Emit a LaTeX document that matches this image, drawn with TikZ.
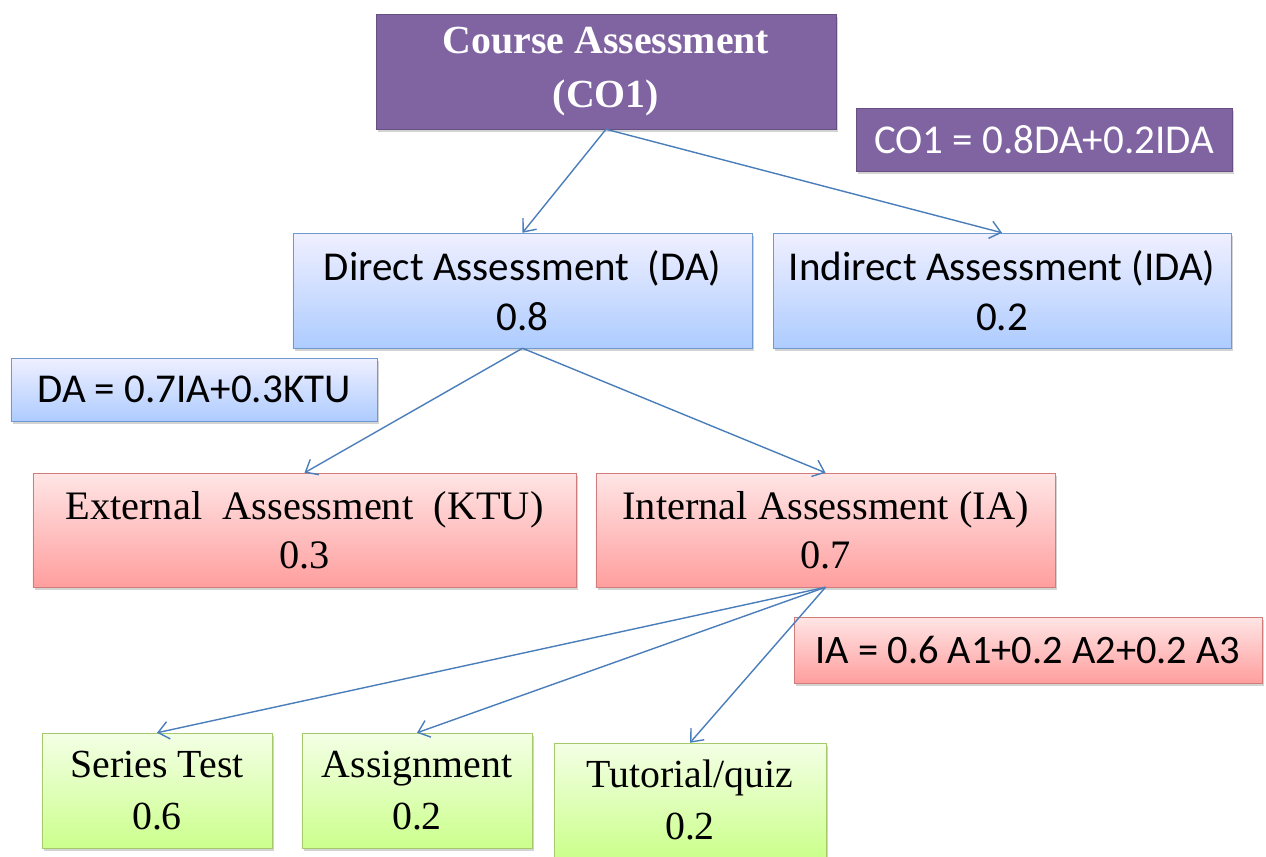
\documentclass[tikz,border=0pt]{standalone}
\usepackage{fontspec}
\setmainfont{Liberation Serif}
\newfontfamily\calibri{Carlito}
\usetikzlibrary{arrows.meta,positioning,shadows}
\definecolor{purplebox}{HTML}{8064A2}
\definecolor{linkblue}{HTML}{4A7EBB}
\definecolor{blueline}{HTML}{6E9AD0}
\definecolor{redline}{HTML}{D07C7A}
\definecolor{greenline}{HTML}{A6C96A}

\tikzset{
    boxshadow/.style={drop shadow={shadow xshift=2pt, shadow yshift=-2.5pt, opacity=0.35}},
    topbox/.style={draw=purplebox!80!black, fill=purplebox, boxshadow, text=white,
        font=\fontsize{34}{46}\selectfont\bfseries, align=center, inner sep=0pt},
    eqpurple/.style={draw=purplebox!80!black, fill=purplebox, boxshadow, text=white,
        font=\calibri\fontsize{35}{40}\selectfont, inner sep=0pt},
    bluebox/.style={draw=blueline, top color=blue!6!white, bottom color=blue!30!cyan!20!white!85!blue,
        boxshadow, align=center, inner sep=0pt, font=\calibri\fontsize{35}{43}\selectfont},
    redbox/.style={draw=redline, top color=red!10!white, bottom color=red!38!white,
        boxshadow, align=center, inner sep=0pt, font=\fontsize{34.5}{42}\selectfont},
    greenbox/.style={draw=greenline, top color=green!45!yellow!10!white, bottom color=green!45!yellow!45!white,
        boxshadow, align=center, inner sep=0pt, font=\fontsize{34}{45}\selectfont},
    link/.style={-{Straight Barb[length=9pt, width=15pt]}, draw=linkblue, line width=1.2pt}
}

\begin{document}
\begin{tikzpicture}[x=0.03cm, y=-0.03cm]
    \useasboundingbox (0,0) rectangle (1266,856);

    % top level
    \node[topbox, minimum width=13.8cm, minimum height=3.45cm] (course) at (606,71.5) {\raisebox{-4pt}{Course Assessment}\\\raisebox{-4pt}{(CO1)}};
    \node[eqpurple, minimum width=11.28cm, minimum height=1.89cm] (coeq) at (1044,139.5) {CO1 = 0.8DA+0.2IDA};

    % second level
    \node[bluebox, minimum width=13.77cm, minimum height=3.45cm] (direct) at (522.5,290.5) {Direct Assessment\ \ (DA)\\0.8};
    \node[bluebox, minimum width=13.74cm, minimum height=3.45cm] (indirect) at (1002,290.5) {Indirect Assessment (IDA)\\0.2};
    \node[bluebox, minimum width=10.98cm, minimum height=1.89cm] (daeq) at (194,389.5) {DA = 0.7IA+0.3KTU};

    % third level
    \node[redbox, minimum width=16.29cm, minimum height=3.42cm] (external) at (304.5,530) {External\ \ Assessment\ \ (KTU)\\0.3};
    \node[redbox, minimum width=13.77cm, minimum height=3.42cm] (internal) at (825.5,530) {Internal Assessment (IA)\\0.7};
    \node[redbox, font=\calibri\fontsize{34.5}{40}\selectfont, minimum width=14.04cm, minimum height=1.98cm] (iaeq) at (1028,650) {IA = 0.6 A1+0.2 A2+0.2 A3};

    % components of IA
    \node[greenbox, minimum width=6.9cm, minimum height=3.45cm] (series) at (157,790.5) {Series Test\\0.6};
    \node[greenbox, minimum width=6.9cm, minimum height=3.45cm] (assign) at (417,790.5) {Assignment\\0.2};
    \node[greenbox, minimum width=8.16cm, minimum height=3.42cm] (tutorial) at (690,800) {Tutorial/quiz\\0.2};

    \draw[link] (course.south) -- (direct.north);
    \draw[link] (course.south) -- (indirect.north);
    \draw[link] (direct.south) -- (external.north);
    \draw[link] (direct.south) -- (internal.north);
    \draw[link] (internal.south) -- (series.north);
    \draw[link] (internal.south) -- (assign.north);
    \draw[link] (internal.south) -- (tutorial.north);
\end{tikzpicture}
\end{document}
